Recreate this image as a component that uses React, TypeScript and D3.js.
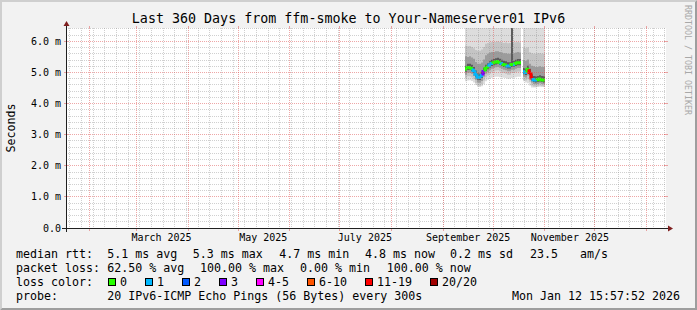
import React from "react";
import * as d3 from "d3";

// ---------- data ----------
const TITLE = "Last 360 Days from ffm-smoke to Your-Nameserver01 IPv6";
const graphStart = new Date(Date.UTC(2025, 0, 17, 15, 57, 52));
const graphEnd = new Date(Date.UTC(2026, 0, 12, 15, 57, 52));
const dataStart = new Date(Date.UTC(2025, 8, 14, 1, 34, 0));
const STEP_SECONDS = 103680; // consolidated step of the archive

// median rtt (ms), null = no data
const median: (number | null)[] = [
  5.10, 5.16, 5.16, 5.13, 5.06, 4.94, 4.85, 4.84, 4.90, 5.03,
  5.13, 5.18, 5.24, 5.29, 5.31, 5.34, 5.35, 5.32, 5.29, 5.26,
  5.24, 5.21, 5.21, 5.26, 5.26, 5.29, 5.31, 5.31, null, 5.02,
  5.00, 5.10, 5.00, 4.82, 4.77, 4.76, 4.77, 4.79, 4.77, 4.76,
];
// lost pings out of 20
const lossCount: (number | null)[] = [
  0, 0, 0, 0, 1, 1, 1, 1, 1, 3,
  0, 0, 1, 1, 0, 0, 0, 0, 1, 0,
  0, 1, 1, 0, 1, 0, 0, 0, null, 1,
  1, 0, 12, 12, 1, 1, 0, 0, 0, 0,
];
// smoke: outer band (min .. max ping)
const smokeMin: (number | null)[] = [
  4.72, 4.74, 4.75, 4.73, 4.68, 4.60, 4.54, 4.53, 4.56, 4.62,
  4.72, 4.77, 4.80, 4.83, 4.85, 4.86, 4.86, 4.85, 4.84, 4.83,
  4.82, 4.80, 4.80, 4.82, 4.83, 4.85, 4.86, 4.86, null, 4.72,
  4.68, 4.65, 4.58, 4.52, 4.52, 4.52, 4.53, 4.54, 4.54, 4.53,
];
const smokeMax: (number | null)[] = [
  7.5, 7.5, 7.5, 7.5, 7.5, 7.5, 7.5, 7.5, 7.5, 7.5,
  7.5, 7.5, 7.5, 7.5, 7.5, 7.5, 7.5, 7.5, 7.5, 7.5,
  7.5, 7.5, 7.5, 7.5, 7.5, 7.5, 7.5, 7.5, null, 7.5,
  7.5, 7.5, 7.5, 7.5, 7.5, 7.5, 7.5, 7.5, 7.5, 7.5,
];
// second band
const bandBLow: (number | null)[] = [
  4.82, 4.88, 4.88, 4.85, 4.78, 4.66, 4.58, 4.57, 4.62, 4.74,
  4.85, 4.90, 4.96, 5.01, 5.03, 5.06, 5.07, 5.04, 5.01, 4.98,
  4.96, 4.93, 4.93, 4.98, 4.98, 5.01, 5.03, 5.03, null, 4.76,
  4.74, 4.78, 4.70, 4.58, 4.55, 4.55, 4.56, 4.58, 4.56, 4.55,
];
const bandBHigh: (number | null)[] = [
  5.86, 5.84, 5.85, 5.82, 5.78, 5.72, 5.70, 5.70, 5.74, 5.82,
  5.92, 5.95, 5.96, 5.98, 5.97, 5.98, 6.00, 5.98, 5.96, 5.95,
  5.96, 5.94, 5.95, 5.98, 5.96, 5.97, 5.98, 5.96, null, 5.80,
  5.78, 5.80, 5.65, 5.62, 5.60, 5.60, 5.62, 5.62, 5.60, 5.60,
];
// third band
const bandCLow: (number | null)[] = [
  4.93, 4.99, 4.99, 4.96, 4.89, 4.77, 4.68, 4.67, 4.73, 4.86,
  4.96, 5.01, 5.07, 5.12, 5.14, 5.17, 5.18, 5.15, 5.12, 5.09,
  5.07, 5.04, 5.04, 5.09, 5.09, 5.12, 5.14, 5.14, null, 4.86,
  4.84, 4.90, 4.82, 4.68, 4.63, 4.62, 4.63, 4.65, 4.63, 4.62,
];
const bandCHigh: (number | null)[] = [
  5.52, 5.50, 5.52, 5.48, 5.44, 5.34, 5.28, 5.28, 5.32, 5.42,
  5.55, 5.60, 5.64, 5.66, 5.66, 5.68, 5.68, 5.66, 5.64, 5.62,
  5.62, 5.60, 5.60, 5.64, 5.62, 5.64, 5.66, 5.64, null, 5.40,
  5.38, 5.42, 5.28, 5.22, 5.20, 5.18, 5.18, 5.20, 5.18, 5.18,
];
// inner band
const bandDLow: (number | null)[] = [
  5.02, 5.08, 5.08, 5.05, 4.98, 4.86, 4.77, 4.76, 4.82, 4.95,
  5.05, 5.10, 5.16, 5.21, 5.23, 5.26, 5.27, 5.24, 5.21, 5.18,
  5.16, 5.13, 5.13, 5.18, 5.18, 5.21, 5.23, 5.23, null, 4.94,
  4.92, 5.02, 4.92, 4.74, 4.69, 4.68, 4.69, 4.71, 4.69, 4.68,
];
const bandDHigh: (number | null)[] = [
  5.22, 5.28, 5.28, 5.25, 5.18, 5.06, 4.97, 4.96, 5.02, 5.15,
  5.25, 5.30, 5.36, 5.41, 5.43, 5.46, 5.47, 5.44, 5.41, 5.38,
  5.36, 5.33, 5.33, 7.60, 5.38, 5.41, 5.43, 5.43, null, 5.14,
  5.12, 5.22, 5.12, 4.94, 4.89, 4.88, 4.89, 4.91, 4.89, 4.88,
];

const yTickValues = [0, 1, 2, 3, 4, 5, 6];
const yTickLabels = ["0.0", "1.0 m", "2.0 m", "3.0 m", "4.0 m", "5.0 m", "6.0 m"];
const monthLabels = ["March 2025", "May 2025", "July 2025", "September 2025", "November 2025"];
const monthLabelDates = ["2025-03-16", "2025-05-16", "2025-07-16", "2025-09-16", "2025-11-16"];

const lossLevels = [0, 1, 2, 3, 5, 10, 19, 20];
const lossLabels = ["0", "1", "2", "3", "4-5", "6-10", "11-19", "20/20"];
const lossColors = ["#26ff00", "#00b8ff", "#0059ff", "#7e00ff", "#ff00ff", "#ff5500", "#ff0000", "#a00000"];

const rttLegend = ["5.1 ms avg", "5.3 ms max", "4.7 ms min", "4.8 ms now", "0.2 ms sd", "23.5", "am/s"];
const lossLegend = ["62.50 % avg", "100.00 % max", "0.00 % min", "100.00 % now"];
const probeText = "20 IPv6-ICMP Echo Pings (56 Bytes) every 300s";
const dateText = "Mon Jan 12 15:57:52 2026";

// ---------- layout ----------
const W = 697;
const H = 310;
const X0 = 66;
const X1 = 666;
const Y0 = 228;
const Y1 = 28;
const Y_MAX = 6.43;
const FONT = "'DejaVu Sans Mono', monospace";
const LEG_FS = 11.63;
const CW = 7.0;

type Pt = { t: Date; lo: number | null; hi: number | null };

function lossColor(n: number) {
  for (let i = 0; i < lossLevels.length; i++) if (n <= lossLevels[i]) return lossColors[i];
  return lossColors[lossColors.length - 1];
}

export default function App() {
  const x = d3.scaleUtc().domain([graphStart, graphEnd]).range([X0, X1]);
  const y = d3.scaleLinear().domain([0, Y_MAX]).range([Y0, Y1]);
  const stepMs = STEP_SECONDS * 1000;
  const times = median.map((_, i) => new Date(dataStart.getTime() + i * stepMs));
  const xr = (d: Date) => Math.round(x(d));

  const area = d3
    .area<Pt>()
    .defined((p) => p.lo != null && p.hi != null)
    .x((p) => xr(p.t))
    .y0((p) => y(p.lo as number))
    .y1((p) => y(p.hi as number));

  const pts = (lo: (number | null)[], hi: (number | null)[]): Pt[] =>
    lo.flatMap((l, i) => [
      { t: times[i], lo: l, hi: hi[i] },
      { t: new Date(times[i].getTime() + stepMs), lo: l, hi: hi[i] },
    ]);

  const bands = [
    { lo: smokeMin, hi: smokeMax, color: "#dddddd" },
    { lo: bandBLow, hi: bandBHigh, color: "#c4c4c4" },
    { lo: bandCLow, hi: bandCHigh, color: "#9c9c9c" },
    { lo: bandDLow, hi: bandDHigh, color: "#5c5c5c" },
  ];

  // median segments
  const medSegs: { d: string; c: string }[] = [];
  median.forEach((m, i) => {
    if (m == null) return;
    const xa = xr(times[i]);
    const xb = xr(new Date(times[i].getTime() + stepMs));
    const yy = y(m);
    const prev = i > 0 ? median[i - 1] : null;
    const d = prev != null ? `M${xa},${y(prev)}V${yy}H${xb}` : `M${xa},${yy}H${xb}`;
    medSegs.push({ d, c: lossColor(lossCount[i] ?? 0) });
  });

  const fl = (v: number) => Math.floor(v) + 0.5;
  const minorY = d3.range(1, 33).filter((k) => k % 5 !== 0).map((k) => k / 5).filter((v) => v < Y_MAX);
  const majorY = yTickValues.filter((v) => v > 0);
  const minorX = d3.utcMonday.range(graphStart, graphEnd);
  const majorX = d3.utcMonth.range(graphStart, graphEnd);
  const GRID = "rgba(143,143,143,0.42)";
  const MGRID = "rgba(222,79,79,0.5)";

  // loss legend flow
  let lx = 108;
  const lossItems = lossLabels.map((lab, i) => {
    const item = { x: lx, lab, c: lossColors[i] };
    lx = lx + 12 + lab.length * CW + 18;
    return item;
  });

  const rttX = [107.3, 192.7, 279.3, 365, 450, 530, 580];
  const lossX = [107.3, 200, 300, 386.7];

  return (
    <svg
      width={W}
      height={H}
      style={{ position: "absolute", left: 0, top: 0, display: "block" }}
      fontFamily={FONT}
    >
      <defs>
        <clipPath id="plotclip">
          <rect x={X0} y={Y1} width={X1 - X0} height={Y0 - Y1} />
        </clipPath>
      </defs>
      <rect x={0} y={0} width={W} height={H} fill="#f2f2f2" />
      <polygon points={`0,0 0,${H} 2,${H - 2} 2,2 ${W - 2},2 ${W},0`} fill="#cfcfcf" />
      <polygon points={`${W},0 ${W},${H} 0,${H} 2,${H - 2} ${W - 2},${H - 2} ${W - 2},2`} fill="#9e9e9e" />
      <rect x={X0} y={Y1} width={X1 - X0} height={Y0 - Y1} fill="#ffffff" />

      {/* smoke */}
      <g clipPath="url(#plotclip)">
        {bands.map((b, i) => (
          <path key={i} d={area(pts(b.lo, b.hi)) || ""} fill={b.color} />
        ))}
        {medSegs.map((s, i) => (
          <path key={i} d={s.d} stroke={s.c} strokeWidth={3} fill="none" strokeLinecap="butt" />
        ))}
      </g>

      {/* grid */}
      <g strokeWidth={1} strokeDasharray="1,1" fill="none">
        {minorY.map((v) => (
          <line key={"my" + v} x1={X0} x2={X1} y1={fl(y(v))} y2={fl(y(v))} stroke={GRID} />
        ))}
        {minorX.map((d) => (
          <line key={"mx" + d.getTime()} x1={fl(x(d))} x2={fl(x(d))} y1={Y1} y2={Y0} stroke={GRID} />
        ))}
        {majorY.map((v) => (
          <line key={"My" + v} x1={X0} x2={X1} y1={fl(y(v))} y2={fl(y(v))} stroke={MGRID} />
        ))}
        {majorX.map((d) => (
          <line key={"Mx" + d.getTime()} x1={fl(x(d))} x2={fl(x(d))} y1={Y1} y2={Y0} stroke={MGRID} />
        ))}
      </g>
      <g strokeWidth={1} fill="none">
        {majorY.map((v) => (
          <g key={"ty" + v}>
            <line x1={X0 - 2} x2={X0 + 2} y1={fl(y(v))} y2={fl(y(v))} stroke={MGRID} />
            <line x1={X1 - 2} x2={X1 + 2} y1={fl(y(v))} y2={fl(y(v))} stroke={MGRID} />
          </g>
        ))}
        {majorX.map((d) => (
          <g key={"tx" + d.getTime()}>
            <line x1={fl(x(d))} x2={fl(x(d))} y1={Y0} y2={Y0 + 3} stroke={MGRID} />
            <line x1={fl(x(d))} x2={fl(x(d))} y1={Y1 - 2} y2={Y1} stroke={MGRID} />
          </g>
        ))}
      </g>

      {/* axes */}
      <line x1={X0 - 4} x2={X1 + 4} y1={Y0 + 0.5} y2={Y0 + 0.5} stroke="#1f1f1f" strokeWidth={1} />
      <line x1={X0 + 0.5} x2={X0 + 0.5} y1={Y0 + 4} y2={Y1 - 4} stroke="#1f1f1f" strokeWidth={1} />
      <polygon
        points={`${X1 + 2},${Y0 + 0.5 - 3} ${X1 + 2},${Y0 + 0.5 + 3} ${X1 + 7},${Y0 + 0.5}`}
        fill="#7f1f1f"
      />
      <polygon
        points={`${X0 + 0.5 - 3},${Y1 - 2} ${X0 + 0.5 + 3},${Y1 - 2} ${X0 + 0.5},${Y1 - 7}`}
        fill="#7f1f1f"
      />

      {/* axis labels */}
      <g fontSize={10} fill="#000">
        {yTickValues.map((v, i) => (
          <text key={"yl" + v} x={61} y={fl(y(v)) + 3} textAnchor="end">
            {yTickLabels[i]}
          </text>
        ))}
        {monthLabels.map((lab, i) => (
          <text key={lab} x={x(new Date(monthLabelDates[i] + "T00:00:00Z"))} y={241} textAnchor="middle">
            {lab}
          </text>
        ))}
      </g>

      {/* title */}
      <text x={W / 2} y={23} textAnchor="middle" fontSize={13.33} fill="#000">
        {TITLE}
      </text>
      <text transform={`translate(14.5,${(Y0 + Y1) / 2}) rotate(-90)`} textAnchor="middle" fontSize={LEG_FS} fill="#000">
        Seconds
      </text>
      <text transform={`translate(685,5) rotate(90)`} fontSize={8.3} fill="#a8a8a8">
        RRDTOOL / TOBI OETIKER
      </text>

      {/* legend */}
      <g fontSize={LEG_FS} fill="#000" style={{ whiteSpace: "pre" }}>
        <text x={16} y={258}>median rtt:</text>
        {rttLegend.map((s, i) => (
          <text key={"r" + i} x={rttX[i]} y={258}>{s}</text>
        ))}
        <text x={16} y={272}>packet loss:</text>
        {lossLegend.map((s, i) => (
          <text key={"l" + i} x={lossX[i]} y={272}>{s}</text>
        ))}
        <text x={16} y={286}>loss color:</text>
        {lossItems.map((it) => (
          <g key={it.lab}>
            <rect x={it.x + 0.5} y={278.5} width={7} height={7} fill={it.c} stroke="#000" strokeWidth={1} />
            <text x={it.x + 12} y={286}>{it.lab}</text>
          </g>
        ))}
        <text x={16} y={300}>probe:</text>
        <text x={107.3} y={300}>{probeText}</text>
        <text x={680} y={300} textAnchor="end">{dateText}</text>
      </g>
    </svg>
  );
}
